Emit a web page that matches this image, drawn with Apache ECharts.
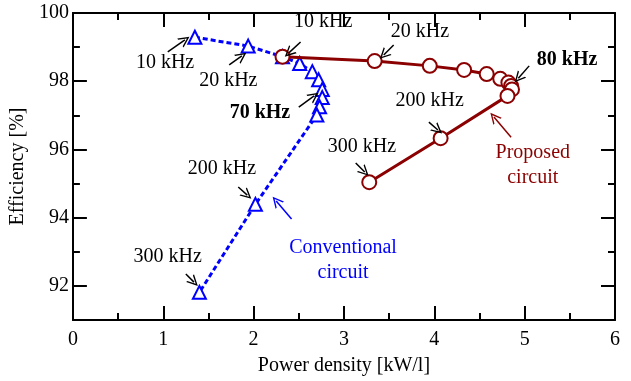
<!DOCTYPE html>
<html>
<head>
<meta charset="utf-8">
<script src="https://cdn.jsdelivr.net/npm/echarts@6/dist/echarts.min.js"></script>
<style>
  html, body { margin: 0; padding: 0; background: #fff; }
  #chart { width: 631px; height: 381px; }
</style>
</head>
<body>
<div id="chart"></div>
<script>
// frequencies 10..100 kHz, 200 kHz, 300 kHz
const freqs = [10, 20, 30, 40, 50, 60, 70, 80, 90, 100, 200, 300];
const convX = [1.35, 1.94, 2.32, 2.51, 2.65, 2.72, 2.76, 2.76, 2.73, 2.70, 2.02, 1.40];
const convY = [99.29, 99.03, 98.72, 98.52, 98.28, 98.04, 97.76, 97.52, 97.25, 97.01, 94.39, 91.81];
const propX = [2.32, 3.34, 3.95, 4.33, 4.58, 4.73, 4.82, 4.85, 4.86, 4.81, 4.07, 3.28];
const propY = [98.72, 98.59, 98.45, 98.33, 98.21, 98.07, 97.96, 97.86, 97.76, 97.57, 96.33, 95.04];

const xTicks = [0, 1, 2, 3, 4, 5, 6];
const yTicks = [92, 94, 96, 98, 100];

// annotation texts and where they sit (data coords)
const noteTexts = ['10 kHz', '20 kHz', '10 kHz', '20 kHz', '80 kHz', '70 kHz', '200 kHz', '300 kHz', '200 kHz', '300 kHz'];
const noteCoords = [[1.02, 98.53], [1.72, 98.01], [2.77, 99.74], [3.84, 99.44], [5.47, 98.62], [2.07, 97.07], [3.95, 97.42], [3.20, 96.07], [1.65, 95.43], [1.05, 92.85]];
const boldNotes = ['80 kHz', '70 kHz'];
const noteArrows = [
  [[1.05, 98.86], [1.24, 99.21]],
  [[1.73, 98.48], [1.87, 98.74]],
  [[2.52, 99.15], [2.39, 98.83]],
  [[3.55, 99.06], [3.44, 98.77]],
  [[5.05, 98.45], [4.93, 98.09]],
  [[2.50, 97.24], [2.67, 97.57]],
  [[3.94, 96.80], [4.04, 96.57]],
  [[3.13, 95.60], [3.23, 95.34]],
  [[1.83, 94.90], [1.93, 94.66]],
  [[1.25, 92.35], [1.34, 92.11]]
];
const convNote = { text: 'Conventional\ncircuit', coord: [2.99, 92.76], arrow: [[2.42, 93.96], [2.25, 94.49]] };
const propNote = { text: 'Proposed\ncircuit', coord: [5.09, 95.54], arrow: [[4.85, 96.36], [4.66, 96.95]] };

const BLUE = '#0000ff';
const RED = '#8b0000';
const FONT = 'Liberation Serif';
const arrowHead = 'path://M0,10 L5,0 L10,10 L8.6,10 L5,2.8 L1.4,10 Z';

const chart = echarts.init(document.getElementById('chart'));

function xAxisCfg(pos, showLabel) {
  return {
    type: 'value', position: pos, min: 0, max: 6, interval: 1,
    axisLine: { show: true, lineStyle: { color: '#000', width: 2 } },
    axisTick: { show: true, inside: true, length: 14, lineStyle: { color: '#000', width: 2 } },
    minorTick: { show: true, splitNumber: 2, length: 7, lineStyle: { color: '#000', width: 2 } },
    splitLine: { show: false },
    axisLabel: {
      show: showLabel, margin: 10, color: '#000', fontFamily: FONT, fontSize: 20,
      formatter: (v) => (xTicks.indexOf(v) >= 0 ? String(v) : '')
    },
    name: showLabel ? 'Power density [kW/l]' : '',
    nameLocation: 'middle', nameGap: 36,
    nameTextStyle: { color: '#000', fontFamily: FONT, fontSize: 20 }
  };
}

// minor axis: every 1 %, short ticks; major axis: every 2 %, long ticks
function yMinor(pos, showLabel) {
  return {
    type: 'value', position: pos, min: 91, max: 100, interval: 1,
    axisLine: { show: true, lineStyle: { color: '#000', width: 2 } },
    axisTick: { show: true, inside: true, length: 7, lineStyle: { color: '#000', width: 2 } },
    splitLine: { show: false },
    axisLabel: {
      show: showLabel, margin: 4, color: '#000', fontFamily: FONT, fontSize: 20,
      formatter: (v) => (yTicks.indexOf(v) >= 0 ? String(v) : '')
    },
    name: showLabel ? 'Efficiency [%]' : '',
    nameLocation: 'middle', nameGap: 32,
    nameTextStyle: { color: '#000', fontFamily: FONT, fontSize: 20 }
  };
}
function yMajor(pos) {
  return {
    type: 'value', position: pos, min: 91, max: 100, minInterval: 2, maxInterval: 2,
    axisLine: { show: false },
    axisTick: { show: true, inside: true, length: 14, lineStyle: { color: '#000', width: 2 } },
    splitLine: { show: false },
    axisLabel: { show: false }
  };
}

const notes = noteTexts.map((t, i) => ({
  value: noteCoords[i],
  label: { fontWeight: boldNotes.indexOf(t) >= 0 ? 'bold' : 'normal', formatter: t }
}));
notes.push({ value: convNote.coord, label: { color: BLUE, formatter: convNote.text } });
notes.push({ value: propNote.coord, label: { color: RED, formatter: propNote.text } });

const arrows = noteArrows.map((a) => [{ coord: a[0] }, { coord: a[1] }]);
arrows.push([{ coord: convNote.arrow[0], lineStyle: { color: BLUE } }, { coord: convNote.arrow[1] }]);
arrows.push([{ coord: propNote.arrow[0], lineStyle: { color: RED } }, { coord: propNote.arrow[1] }]);

const option = {
  animation: false,
  grid: { left: 67, right: 16, top: 13, bottom: 61 },
  xAxis: [xAxisCfg('bottom', true), xAxisCfg('top', false)],
  yAxis: [yMinor('left', true), yMajor('left'), yMinor('right', false), yMajor('right')],
  series: [
    {
      name: 'Conventional circuit',
      type: 'line',
      data: convX.map((x, i) => [x, convY[i]]),
      symbol: 'triangle',
      symbolSize: 13,
      itemStyle: { color: '#fff', borderColor: BLUE, borderWidth: 2 },
      lineStyle: { color: BLUE, width: 3, type: [5, 3] },
      z: 3
    },
    {
      name: 'Proposed circuit',
      type: 'line',
      data: propX.map((x, i) => [x, propY[i]]),
      symbol: 'circle',
      symbolSize: 14,
      itemStyle: { color: '#fff', borderColor: RED, borderWidth: 2 },
      lineStyle: { color: RED, width: 3 },
      z: 4
    },
    {
      name: 'notes',
      type: 'scatter',
      data: notes,
      symbol: 'circle',
      symbolSize: 0,
      silent: true,
      itemStyle: { opacity: 1, color: '#000' },
      label: {
        show: true, position: 'inside', color: '#000',
        textBorderWidth: 0, textBorderColor: 'transparent',
        fontFamily: FONT, fontSize: 20, lineHeight: 25,
        align: 'center', verticalAlign: 'middle'
      },
      markLine: {
        silent: true,
        symbol: ['none', arrowHead],
        symbolSize: [11, 11],
        label: { show: false },
        lineStyle: { color: '#000', width: 1.5, type: 'solid', opacity: 1 },
        data: arrows
      },
      z: 5
    }
  ]
};
chart.setOption(option);
</script>
</body>
</html>
